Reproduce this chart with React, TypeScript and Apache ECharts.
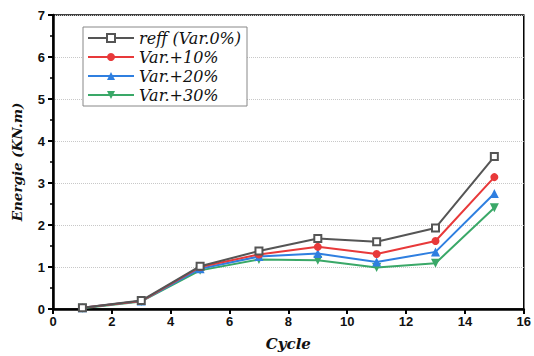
import React, { useEffect, useRef } from "react";
import * as echarts from "echarts";

const cycles = [1, 3, 5, 7, 9, 11, 13, 15];
const reff = [0.03, 0.2, 1.02, 1.38, 1.68, 1.6, 1.93, 3.63];
const var10 = [0.03, 0.19, 1.0, 1.3, 1.48, 1.31, 1.62, 3.14];
const var20 = [0.03, 0.19, 0.96, 1.25, 1.32, 1.12, 1.36, 2.75];
const var30 = [0.02, 0.18, 0.92, 1.18, 1.16, 0.99, 1.09, 2.41];
const seriesNames = ["reff (Var.0%)", "Var.+10%", "Var.+20%", "Var.+30%"];
const colors = ["#555555", "#e8393a", "#2f7fe0", "#3aa868"];
const SERIF = "DejaVu Serif";
const SANS = "Arial, sans-serif";

export default function App() {
  const ref = useRef<HTMLDivElement>(null);
  useEffect(() => {
    if (!ref.current) return;
    const chart = echarts.init(ref.current, undefined, { renderer: "svg" });
    const datasets = [reff, var10, var20, var30];
    const symbols = ["emptyRect", "circle", "triangle", "triangle"];
    const sizes = [7, 8, 9, 9];
    chart.setOption({
      animation: false,
      backgroundColor: "#ffffff",
      grid: {
        left: 53,
        right: 9,
        top: 15,
        bottom: 46,
        show: true,
        borderColor: "#000",
        borderWidth: 1.5,
        backgroundColor: "transparent",
      },
      legend: {
        orient: "vertical",
        left: 83,
        top: 27,
        itemWidth: 46,
        itemHeight: 10,
        itemGap: 3,
        padding: [3, 6, 3, 4],
        borderColor: "#888",
        borderWidth: 1,
        backgroundColor: "#fff",
        data: seriesNames,
        textStyle: {
          fontFamily: SERIF,
          fontStyle: "italic",
          fontSize: 16,
          color: "#111",
        },
      },
      xAxis: {
        type: "value",
        min: 0,
        max: 16,
        interval: 2,
        name: "Cycle",
        nameLocation: "middle",
        nameGap: 27,
        nameTextStyle: {
          fontFamily: SERIF,
          fontStyle: "italic",
          fontWeight: "bold",
          fontSize: 15,
          color: "#111",
        },
        axisLine: { lineStyle: { color: "#000", width: 2.5 } },
        axisTick: { show: true, inside: false, length: 5, lineStyle: { width: 2, color: "#000" } },
        axisLabel: {
          fontFamily: SANS,
          fontWeight: "bold",
          fontSize: 13,
          color: "#111",
          margin: 6,
        },
        splitLine: { show: false },
      },
      yAxis: {
        type: "value",
        min: 0,
        max: 7,
        interval: 1,
        name: "Energie (KN.m)",
        nameLocation: "middle",
        nameGap: 29,
        nameTextStyle: {
          fontFamily: SERIF,
          fontStyle: "italic",
          fontWeight: "bold",
          fontSize: 13.5,
          color: "#111",
        },
        axisLine: { show: true, lineStyle: { color: "#000", width: 2.5 } },
        axisTick: { show: true, inside: false, length: 5, lineStyle: { width: 2, color: "#000" } },
        minorTick: { show: true, splitNumber: 2, length: 3, lineStyle: { width: 1.5, color: "#000" } },
        axisLabel: {
          fontFamily: SANS,
          fontWeight: "bold",
          fontSize: 13,
          color: "#111",
          margin: 8,
        },
        splitLine: { show: true, lineStyle: { type: "dotted", color: "#c8c8c8", width: 1 } },
      },
      series: datasets.map((d, i) => ({
        name: seriesNames[i],
        type: "line",
        data: cycles.map((c, j) => [c, d[j]]),
        symbol: symbols[i],
        symbolSize: sizes[i],
        symbolRotate: i === 3 ? 180 : 0,
        showAllSymbol: true,
        z: 10 - i,
        itemStyle: {
          color: colors[i],
          borderWidth: i === 0 ? 1.8 : 0,
        },
        lineStyle: { color: colors[i], width: 2 },
      })),
    });
    return () => chart.dispose();
  }, []);
  return <div ref={ref} style={{ width: 534, height: 356, position: "absolute", left: 0, top: 0 }} />;
}
